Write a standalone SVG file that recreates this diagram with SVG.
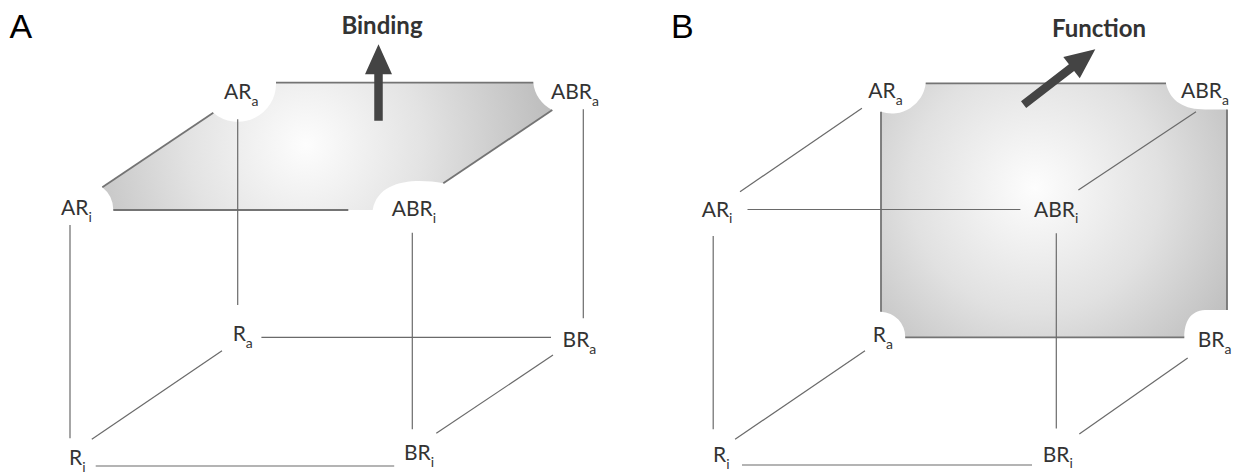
<svg xmlns="http://www.w3.org/2000/svg" width="1236" height="475" viewBox="0 0 1236 475">
  <defs>
    <radialGradient id="gradA" gradientUnits="userSpaceOnUse" cx="306" cy="145" r="260">
      <stop offset="0" stop-color="#fdfdfd"/>
      <stop offset="0.45" stop-color="#e3e3e3"/>
      <stop offset="1" stop-color="#b9b9b9"/>
    </radialGradient>
    <radialGradient id="gradB" gradientUnits="userSpaceOnUse" cx="1035" cy="188" r="250">
      <stop offset="0" stop-color="#fdfdfd"/>
      <stop offset="0.5" stop-color="#e1e1e1"/>
      <stop offset="1" stop-color="#b8b8b8"/>
    </radialGradient>
  </defs>
  <style>
    .panel { font-family: "Liberation Sans", Arial, sans-serif; font-size: 34px; fill: #000; }
    .title { font-family: Lato, "Open Sans", sans-serif; font-weight: 700; font-size: 24px; fill: #333; text-anchor: middle; }
    .lbl { font-family: Lato, "Open Sans", sans-serif; font-weight: 400; font-size: 21px; fill: #333; }
    .sub { font-size: 14px; }
    .edge { fill: none; stroke: #747474; stroke-width: 1.8; }
    .ln { fill: none; stroke: #6a6a6a; stroke-width: 1.2; }
    .arrow { fill: #444; }
  </style>
  <rect width="1236" height="475" fill="#fff"/>

  <!-- panel letters -->
  <text class="panel" x="9.5" y="38.3">A</text>
  <text class="panel" x="671" y="38.3">B</text>

  <!-- ===== Panel A: binding face (top) ===== -->
  <g id="faceA">
    <path d="M276 82.7 L533.3 82.7 A34 34 0 0 0 552.3 110 L443.3 183.3 C415 178 378 180 372.7 210 L113.3 210 A29 29 0 0 0 102.3 187.3 L213.3 112.7 A38 38 0 0 0 276 82.7 Z" fill="url(#gradA)"/>
    <line class="edge" x1="276" y1="82.7" x2="533.3" y2="82.7"/>
    <line class="edge" x1="552.3" y1="110" x2="443.3" y2="183.3"/>
    <line class="edge" x1="348.3" y1="210" x2="113.3" y2="210"/>
    <line class="edge" x1="102.3" y1="187.3" x2="213.3" y2="112.7"/>
  </g>
  <g id="arrowA">
    <polygon class="arrow" transform="translate(378.5 44.3)" points="0,0 13.5,30 4.25,30 4.25,76.4 -4.25,76.4 -4.25,30 -13.5,30"/>
    <text class="title" x="382" y="34.3">Binding</text>
  </g>

  <!-- ===== Panel B: function face (back) ===== -->
  <g id="faceB">
    <path d="M925.7 83.3 L1166 83.3 C1170 102 1185 109.5 1205 109.5 L1227 109.5 L1227 310 L1205 310 C1190 311 1184.3 322 1184.3 337.3 L905.2 337.3 A25 25 0 0 0 881 311.7 L881 111.7 A34 34 0 0 0 925.7 83.3 Z" fill="url(#gradB)"/>
    <line class="edge" x1="925.7" y1="83.3" x2="1166" y2="83.3"/>
    <line class="edge" x1="1227" y1="109.5" x2="1227" y2="310"/>
    <line class="edge" x1="905.2" y1="337.3" x2="1184.3" y2="337.3"/>
    <line class="edge" x1="881" y1="111.7" x2="881" y2="311.7"/>
  </g>
  <g id="arrowB">
    <polygon class="arrow" transform="translate(1095.3 49.3) rotate(52.4)" points="0,0 13.5,30 4.25,30 4.25,90.5 -4.25,90.5 -4.25,30 -13.5,30"/>
    <text class="title" x="1099" y="36.7">Function</text>
  </g>

  <!-- cube edges between states -->
  <g id="connectors">
    <!-- panel A -->
    <line class="ln" x1="237.7" y1="119.3" x2="237.7" y2="305"/>
    <line class="ln" x1="583.3" y1="109.3" x2="583.3" y2="318.3"/>
    <line class="ln" x1="70" y1="225" x2="70" y2="438.3"/>
    <line class="ln" x1="412.3" y1="232.7" x2="412.3" y2="429.3"/>
    <line class="ln" x1="261.4" y1="337.3" x2="551" y2="337.3"/>
    <line class="ln" x1="95.7" y1="466" x2="394.2" y2="466"/>
    <line class="ln" x1="222" y1="350.7" x2="91.8" y2="439.3"/>
    <line class="ln" x1="553" y1="355" x2="436.3" y2="433.3"/>
    <!-- panel B -->
    <line class="ln" x1="861.9" y1="108.3" x2="740" y2="191.7"/>
    <line class="ln" x1="747.5" y1="209.5" x2="1020.4" y2="209.5"/>
    <line class="ln" x1="1196" y1="111.7" x2="1078.4" y2="190"/>
    <line class="ln" x1="713.2" y1="236" x2="713.2" y2="429.3"/>
    <line class="ln" x1="1056.3" y1="233.3" x2="1056.3" y2="428.5"/>
    <line class="ln" x1="865" y1="350.7" x2="735.1" y2="439.3"/>
    <line class="ln" x1="1187.7" y1="358" x2="1079.3" y2="434"/>
    <line class="ln" x1="742" y1="465" x2="1032" y2="465"/>
  </g>

  <!-- states, panel A -->
  <g id="A-ARa"><text class="lbl" x="224" y="99">AR<tspan class="sub" dy="7">a</tspan></text></g>
  <g id="A-ABRa"><text class="lbl" x="551" y="99">ABR<tspan class="sub" dy="7">a</tspan></text></g>
  <g id="A-ARi"><text class="lbl" x="61" y="215">AR<tspan class="sub" dy="6.5">i</tspan></text></g>
  <g id="A-ABRi"><text class="lbl" x="391.7" y="216">ABR<tspan class="sub" dy="6.5">i</tspan></text></g>
  <g id="A-Ra"><text class="lbl" x="232.7" y="341">R<tspan class="sub" dy="7">a</tspan></text></g>
  <g id="A-BRa"><text class="lbl" x="562.6" y="346.5">BR<tspan class="sub" dy="7">a</tspan></text></g>
  <g id="A-Ri"><text class="lbl" x="69" y="465">R<tspan class="sub" dy="6.5">i</tspan></text></g>
  <g id="A-BRi"><text class="lbl" x="404" y="460">BR<tspan class="sub" dy="6.5">i</tspan></text></g>

  <!-- states, panel B -->
  <g id="B-ARa"><text class="lbl" x="868.3" y="98.3">AR<tspan class="sub" dy="7">a</tspan></text></g>
  <g id="B-ABRa"><text class="lbl" x="1181" y="97.5">ABR<tspan class="sub" dy="7">a</tspan></text></g>
  <g id="B-ARi"><text class="lbl" x="701.7" y="216.5">AR<tspan class="sub" dy="6.5">i</tspan></text></g>
  <g id="B-ABRi"><text class="lbl" x="1034" y="216.7">ABR<tspan class="sub" dy="6.5">i</tspan></text></g>
  <g id="B-Ra"><text class="lbl" x="872.8" y="341.7">R<tspan class="sub" dy="7">a</tspan></text></g>
  <g id="B-BRa"><text class="lbl" x="1197.7" y="346.7">BR<tspan class="sub" dy="7">a</tspan></text></g>
  <g id="B-Ri"><text class="lbl" x="713" y="462">R<tspan class="sub" dy="6.5">i</tspan></text></g>
  <g id="B-BRi"><text class="lbl" x="1042.7" y="461.7">BR<tspan class="sub" dy="6.5">i</tspan></text></g>
</svg>
